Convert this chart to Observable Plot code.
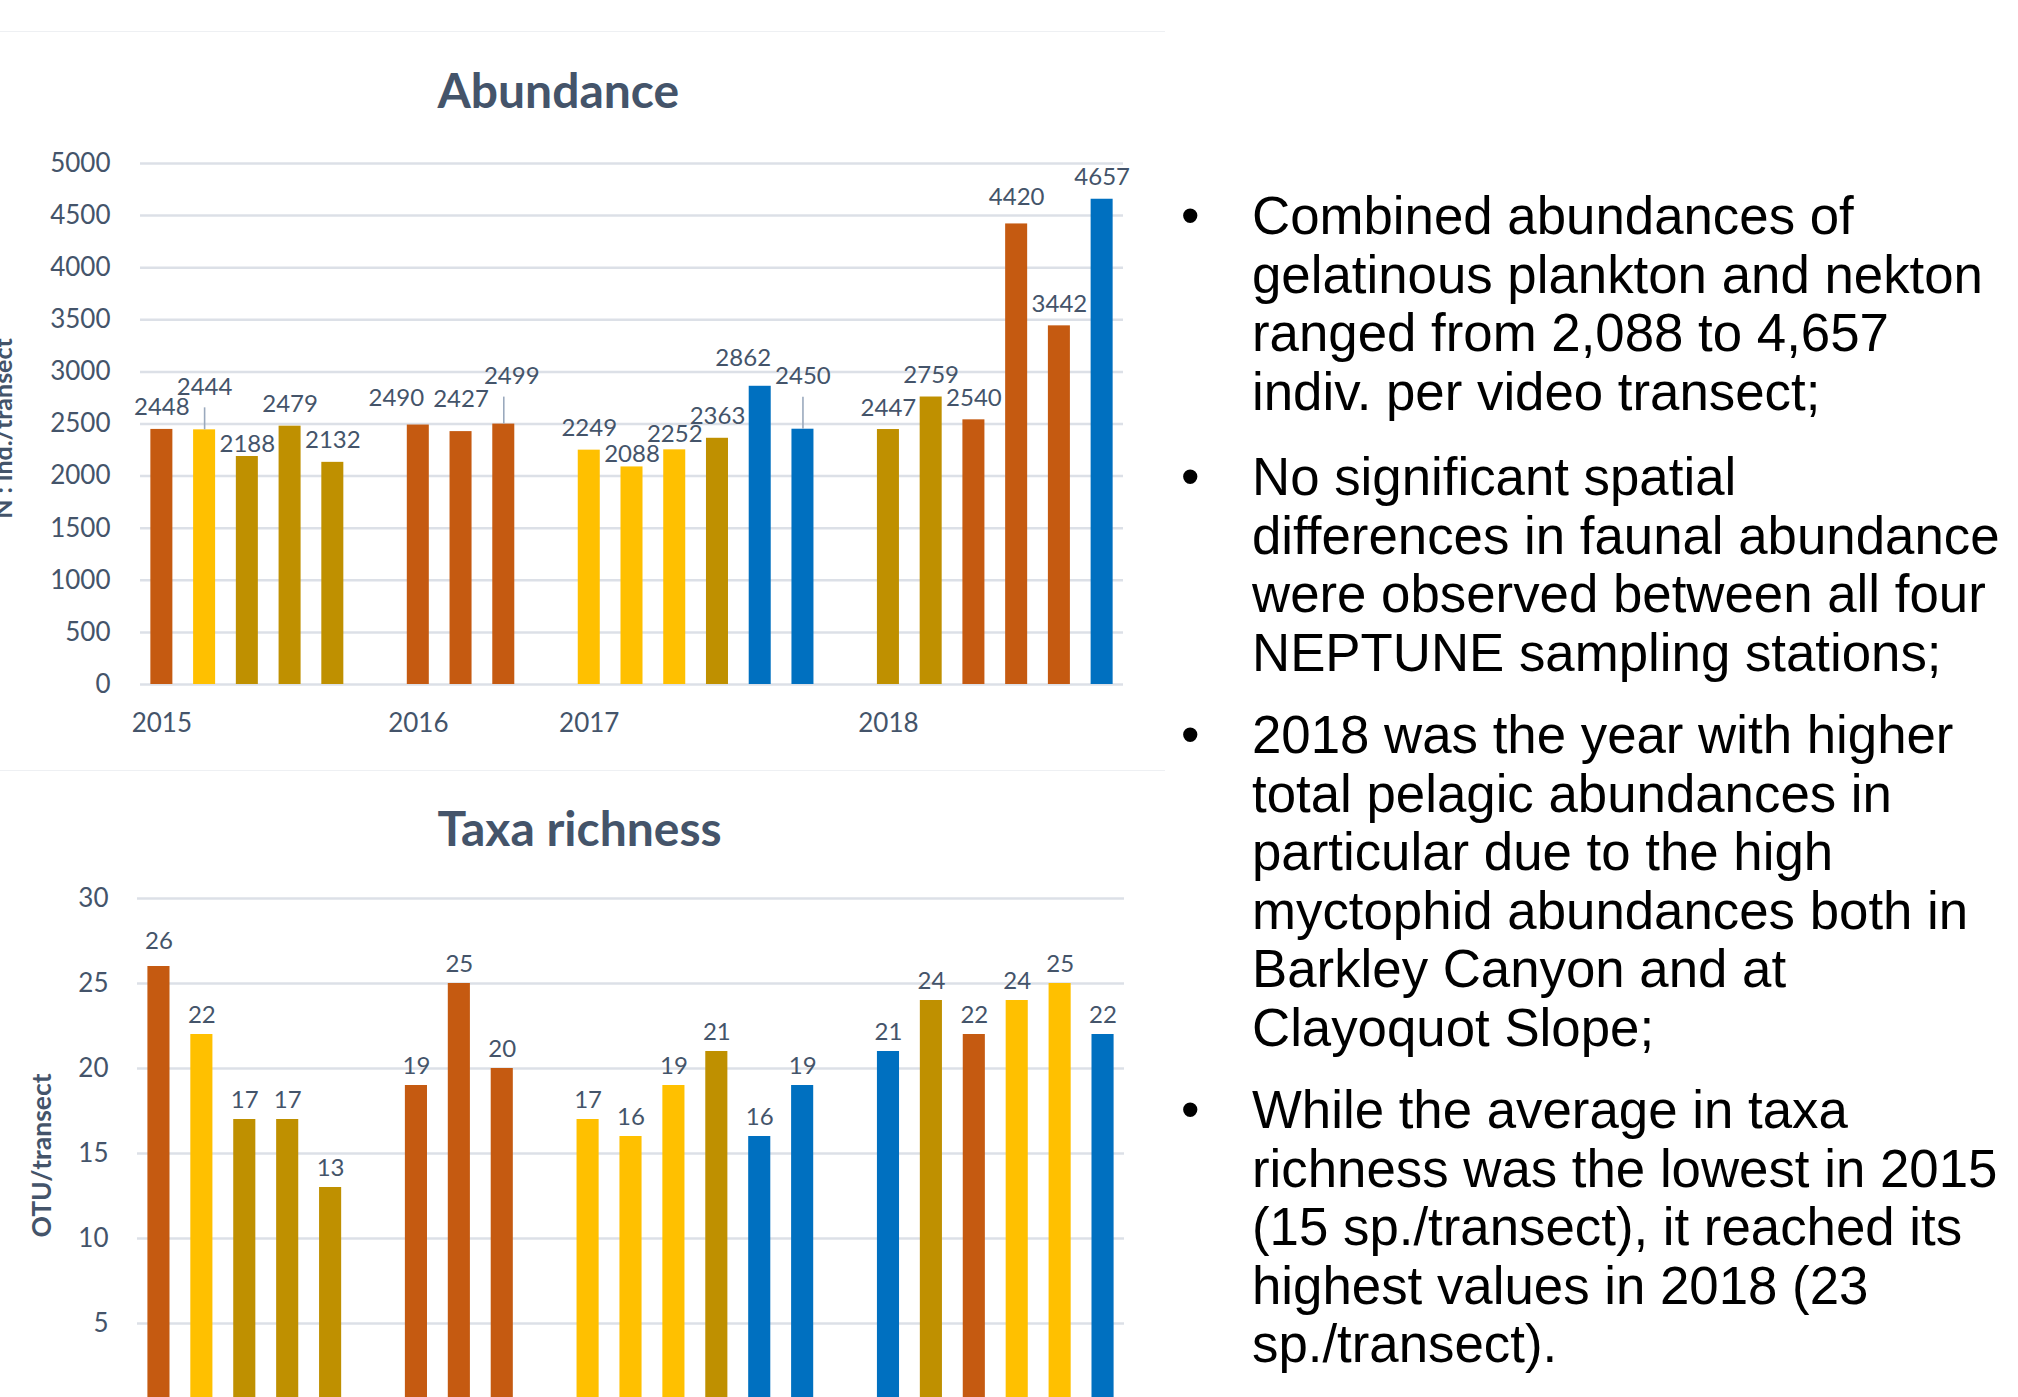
<!DOCTYPE html>
<html>
<head>
<meta charset="utf-8">
<script src="https://cdn.jsdelivr.net/npm/d3@7"></script>
<script src="https://cdn.jsdelivr.net/npm/@observablehq/plot@0.6"></script>
<style>
  html, body { margin: 0; padding: 0; background: #fff; overflow: hidden; }
  #page { position: relative; width: 2018px; height: 1397px; overflow: hidden; background: #fff; }
  .panel { position: absolute; left: 0; }
  .edge { position: absolute; left: 0; width: 1165px; height: 1px; background: #eef0f3; }
  .note {
    position: absolute; left: 1252px;
    font-family: "Liberation Sans", Arial, Helvetica, sans-serif;
    font-size: 52.8px; line-height: 58.5px; color: #000; white-space: nowrap;
  }
  .note::before { content: "\2022"; position: absolute; left: -71px; top: 0; }
</style>
</head>
<body>
<div id="page">
  <div class="edge" style="top:31px"></div>
  <div class="edge" style="top:770px"></div>
  <div id="abundance" class="panel" style="top:0px"></div>
  <div id="richness" class="panel" style="top:800px"></div>

  <div class="note" style="top:187px">Combined abundances of<br>gelatinous plankton and nekton<br>ranged from 2,088 to 4,657<br>indiv. per video transect;</div>
  <div class="note" style="top:448px">No significant spatial<br>differences in faunal abundance<br>were observed between all four<br>NEPTUNE sampling stations;</div>
  <div class="note" style="top:706px">2018 was the year with higher<br>total pelagic abundances in<br>particular due to the high<br>myctophid abundances both in<br>Barkley Canyon and at<br>Clayoquot Slope;</div>
  <div class="note" style="top:1081px">While the average in taxa<br>richness was the lowest in 2015<br>(15 sp./transect), it reached its<br>highest values in 2018 (23<br>sp./transect).</div>
</div>

<script>
// ---- Data -------------------------------------------------------------
const years = ["2015", "2016", "2017", "2018"];

// Combined gelatinous plankton + nekton abundance, individuals per video transect
const abundance2015 = [2448, 2444, 2188, 2479, 2132];
const abundance2016 = [2490, 2427, 2499];
const abundance2017 = [2249, 2088, 2252, 2363, 2862, 2450];
const abundance2018 = [2447, 2759, 2540, 4420, 3442, 4657];

// Sampling station of each abundance transect
const abundanceStations2015 = ["rust", "amber", "ochre", "ochre", "ochre"];
const abundanceStations2016 = ["rust", "rust", "rust"];
const abundanceStations2017 = ["amber", "amber", "amber", "ochre", "blue", "blue"];
const abundanceStations2018 = ["ochre", "ochre", "rust", "rust", "rust", "blue"];

// Taxa richness, OTU per transect
const richness2015 = [26, 22, 17, 17, 13];
const richness2016 = [19, 25, 20];
const richness2017 = [17, 16, 19, 21, 16, 19];
const richness2018 = [21, 24, 22, 24, 25, 22];

// Sampling station of each richness transect
const richnessStations2015 = ["rust", "amber", "ochre", "ochre", "ochre"];
const richnessStations2016 = ["rust", "rust", "rust"];
const richnessStations2017 = ["amber", "amber", "amber", "ochre", "blue", "blue"];
const richnessStations2018 = ["blue", "ochre", "rust", "amber", "amber", "blue"];

const stationKeys = ["rust", "amber", "ochre", "blue"];
const stationColors = ["#C55A11", "#FFC000", "#BF9000", "#0070C0"];

const abundanceTicks = d3.range(0, 5001, 500);
const richnessTicks = d3.range(0, 31, 5);

// ---- Label placement tweaks (pixels) --------------------------------------
// lift: extra height above the default gap; dx: sideways shift; leader: connector line
const abundanceLabelTweaks = {
  "2015-1": {lift: 21, leader: true},
  "2015-2": {lift: -9},
  "2016-0": {lift: 5, dx: -22},
  "2016-1": {lift: 11},
  "2016-2": {lift: 26, dx: 8, leader: true},
  "2017-1": {lift: -9},
  "2017-2": {lift: -6},
  "2017-4": {lift: 6, dx: -17},
  "2017-5": {lift: 31, leader: true},
  "2018-3": {lift: 5}
};
const richnessLabelTweaks = {
  "2015-0": {lift: 6}
};

// ---- Helpers ---------------------------------------------------------------
// One band per transect, with an empty band between consecutive years
function buildSeries(valuesByYear, stationsByYear) {
  const rows = [];
  const slots = [];
  const yearStarts = new Map();
  valuesByYear.forEach((values, i) => {
    if (i > 0) slots.push(`gap-${i}`);
    values.forEach((value, j) => {
      const slot = `${years[i]}-${j}`;
      if (j === 0) yearStarts.set(slot, years[i]);
      slots.push(slot);
      rows.push({slot, year: years[i], value, station: stationsByYear[i][j]});
    });
  });
  return {rows, slots, yearStarts};
}

function barChart({series, yMax, ticks, title, yLabel, layout, tweaks, showYears = true}) {
  const {width, height, marginTop, marginBottom, marginLeft, marginRight,
         titleX, titleBaseline, yLabelX, yLabelCenter, yLabelSize, labelGap} = layout;
  const pxPerUnit = (height - marginTop - marginBottom) / yMax;
  const frameMid = (marginTop + height - marginBottom) / 2;

  const rows = series.rows.map(d => {
    const t = tweaks[d.slot] || {};
    return {...d, lift: t.lift || 0, shift: t.dx || 0, leader: !!t.leader};
  });
  const labelY = d => d.value + (labelGap + d.lift) / pxPerUnit;
  const shifts = [...new Set(rows.map(d => d.shift))];
  const leaders = rows.filter(d => d.leader);

  return Plot.plot({
    width, height, marginTop, marginBottom, marginLeft, marginRight,
    style: {fontFamily: "Lato, 'Open Sans', sans-serif", fontSize: "26px", color: "#44546A", background: "transparent"},
    x: {type: "band", domain: series.slots, paddingInner: 0.485, paddingOuter: 0.2425, round: false, label: null},
    y: {domain: [0, yMax], label: null},
    color: {domain: stationKeys, range: stationColors},
    marks: [
      Plot.ruleY(ticks, {stroke: "#DCE0E7", strokeWidth: 2.5}),
      Plot.barY(rows, {x: "slot", y: "value", fill: "station"}),
      Plot.ruleX(leaders, {
        x: "slot", y1: "value",
        y2: d => d.value + (labelGap + d.lift - 13) / pxPerUnit,
        stroke: "#9AA9BD", strokeWidth: 1.6
      }),
      ...shifts.map(s => Plot.text(rows.filter(d => d.shift === s), {
        x: "slot", y: labelY, text: d => String(d.value),
        lineAnchor: "bottom", fontSize: 24, fill: "#44546A", dx: s
      })),
      Plot.axisY({ticks, tickSize: 0, tickPadding: layout.yTickPadding, tickFormat: d => String(d), label: null}),
      showYears ? Plot.axisX({
        ticks: [...series.yearStarts.keys()],
        tickFormat: d => series.yearStarts.get(d) || "",
        tickSize: 0, tickPadding: layout.xTickPadding, label: null
      }) : Plot.axisX({ticks: [], label: null}),
      Plot.text([title], {
        text: d => d, frameAnchor: "top-left", textAnchor: "start", lineAnchor: "bottom",
        dx: titleX - marginLeft, dy: titleBaseline - marginTop,
        fontSize: 48, fontWeight: "bold", fill: "#44546A"
      }),
      Plot.text([yLabel], {
        text: d => d, frameAnchor: "left", rotate: -90, textAnchor: "middle", lineAnchor: "bottom",
        dx: yLabelX - marginLeft, dy: yLabelCenter - frameMid,
        fontSize: yLabelSize, fontWeight: "bold", fill: "#44546A"
      })
    ]
  });
}

// ---- Abundance ---------------------------------------------------------------
const abundanceSeries = buildSeries(
  [abundance2015, abundance2016, abundance2017, abundance2018],
  [abundanceStations2015, abundanceStations2016, abundanceStations2017, abundanceStations2018]
);
document.getElementById("abundance").append(barChart({
  series: abundanceSeries,
  yMax: 5000,
  ticks: abundanceTicks,
  title: "Abundance",
  yLabel: "N : ind./transect",
  tweaks: abundanceLabelTweaks,
  layout: {
    width: 1170, height: 750, marginTop: 163, marginBottom: 66, marginLeft: 140, marginRight: 47,
    titleX: 437, titleBaseline: 107, yLabelX: 11, yLabelCenter: 428, yLabelSize: 25,
    labelGap: 14, yTickPadding: 30, xTickPadding: 29
  }
}));

// ---- Taxa richness (its year row falls below the page edge) ------------------
const richnessSeries = buildSeries(
  [richness2015, richness2016, richness2017, richness2018],
  [richnessStations2015, richnessStations2016, richnessStations2017, richnessStations2018]
);
document.getElementById("richness").append(barChart({
  series: richnessSeries,
  yMax: 30,
  ticks: richnessTicks,
  title: "Taxa richness",
  yLabel: "OTU/transect",
  tweaks: richnessLabelTweaks,
  showYears: false,
  layout: {
    width: 1170, height: 668, marginTop: 98, marginBottom: 60, marginLeft: 137, marginRight: 46,
    titleX: 437, titleBaseline: 45.5, yLabelX: 50, yLabelCenter: 355, yLabelSize: 26.5,
    labelGap: 12, yTickPadding: 29, xTickPadding: 29
  }
}));
</script>
</body>
</html>
